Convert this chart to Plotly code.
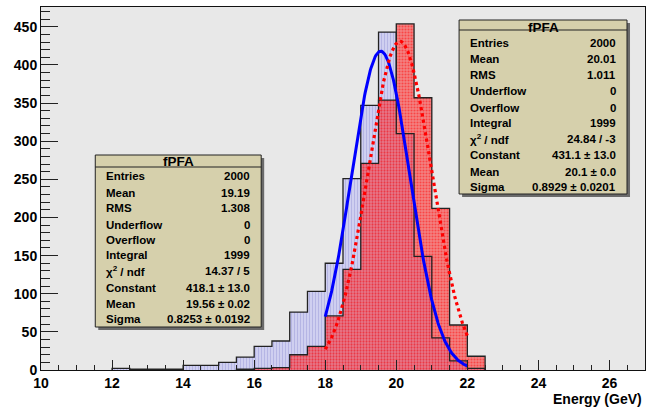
import numpy as np
import plotly.graph_objects as go

# ---------------- data ----------------
bin_width = 0.5
blue_low_edges = [12.0, 12.5, 13.0, 13.5, 14.0, 14.5, 15.0, 15.5, 16.0, 16.5, 17.0,
                  17.5, 18.0, 18.5, 19.0, 19.5, 20.0, 20.5, 21.0, 21.5, 22.0]
blue_counts = [2, 1, 1, 1, 6, 6, 10, 17, 31, 38, 76,
               103, 140, 251, 347, 443, 310, 149, 42, 12, 2]

red_low_edges = [15.5, 16.0, 16.5, 17.0, 17.5, 18.0, 18.5, 19.0, 19.5, 20.0, 20.5,
                 21.0, 21.5, 22.0]
red_counts = [1, 2, 3, 20, 31, 71, 132, 271, 354, 454, 357, 212, 59, 18]

# fit parameters (Constant, Mean, Sigma) and fit range
blue_fit = [418.1, 19.56, 0.8253]
red_fit = [431.1, 20.1, 0.8929]
fit_range = [18.0, 22.0]

stat_labels = ["Entries", "Mean", "RMS", "Underflow", "Overflow", "Integral",
               "χ<sup>2</sup> / ndf", "Constant", "Mean", "Sigma"]
blue_stats = ["2000", "19.19", "1.308", "0", "0", "1999", "14.37 / 5",
              "418.1 ± 13.0", "19.56 ± 0.02", "0.8253 ± 0.0192"]
red_stats = ["2000", "20.01", "1.011", "0", "0", "1999", "24.84 / -3",
             "431.1 ± 13.0", "20.1 ± 0.0", "0.8929 ± 0.0201"]
hist_title = "fPFA"

x_range = [10, 27]
y_range = [0, 476]

# ---------------- helpers ----------------
W, H = 646, 410
L, R, T, B = 40.7, 645.0, 7.0, 370.0
FONT = "Liberation Sans, Arial, Helvetica, sans-serif"


def px(x):
    return (x - L) / (R - L)


def py(y):
    return (B - y) / (B - T)


def step_xy(lows, counts):
    xs = [lows[0]] + list(lows) + [lows[-1] + bin_width] * 2
    ys = [0] + list(counts) + [counts[-1], 0]
    return xs, ys


fig = go.Figure()

# blue histogram fill (vertical hatch)
fig.add_trace(go.Bar(
    x=[e + bin_width / 2 for e in blue_low_edges], y=blue_counts, width=bin_width,
    marker=dict(color="#cfcff0", line=dict(width=0),
                pattern=dict(shape="|", fgcolor="#9c9cd8", size=3, solidity=0.35,
                             fillmode="overlay")),
    showlegend=False, hoverinfo="skip"))

# red histogram fill (stippled, see-through)
fig.add_trace(go.Bar(
    x=[e + bin_width / 2 for e in red_low_edges], y=red_counts, width=bin_width,
    marker=dict(color="rgba(255,15,15,0.47)", line=dict(width=0),
                pattern=dict(shape=".", fgcolor="#ff0a0a", size=3,
                             solidity=0.38, fillmode="overlay")),
    showlegend=False, hoverinfo="skip"))

# outlines
bx, by = step_xy(blue_low_edges, blue_counts)
fig.add_trace(go.Scatter(x=bx, y=by, mode="lines", line=dict(color="#222222", width=1.3, shape="hv"),
                         showlegend=False, hoverinfo="skip"))
rx, ry = step_xy(red_low_edges, red_counts)
fig.add_trace(go.Scatter(x=rx, y=ry, mode="lines", line=dict(color="#222222", width=1.3, shape="hv"),
                         showlegend=False, hoverinfo="skip"))

# fitted gaussians (from the stated fit parameters)
xf = np.linspace(fit_range[0], fit_range[1], 200)


def gaus(p, x):
    return p[0] * np.exp(-0.5 * ((x - p[1]) / p[2]) ** 2)


fig.add_trace(go.Scatter(x=xf, y=gaus(blue_fit, xf), mode="lines",
                         line=dict(color="#0000ff", width=3), showlegend=False, hoverinfo="skip"))
fig.add_trace(go.Scatter(x=xf, y=gaus(red_fit, xf), mode="lines",
                         line=dict(color="#ff0000", width=3.2, dash="dot"),
                         showlegend=False, hoverinfo="skip"))

# ---------------- stat boxes ----------------
shapes = []
annotations = []


def stat_box(left, right, top, bottom, sep, title_y, row_ys, values, txt_left, val_right):
    # shadow
    shapes.append(dict(type="rect", xref="paper", yref="paper",
                       x0=px(left + 3), x1=px(right + 3), y0=py(bottom + 3), y1=py(top + 3),
                       fillcolor="#6a6a6a", line=dict(width=0), layer="above"))
    shapes.append(dict(type="rect", xref="paper", yref="paper",
                       x0=px(left), x1=px(right), y0=py(bottom), y1=py(top),
                       fillcolor="#d6d0ac", line=dict(color="#222222", width=1), layer="above"))
    shapes.append(dict(type="line", xref="paper", yref="paper",
                       x0=px(left), x1=px(right), y0=py(sep), y1=py(sep),
                       line=dict(color="#222222", width=1), layer="above"))
    annotations.append(dict(xref="paper", yref="paper", x=px((left + right) / 2), y=py(title_y),
                            text=hist_title, showarrow=False, xanchor="center", yanchor="middle",
                            font=dict(family=FONT, size=13.5, color="black", weight="bold")))
    for lab, val, yy in zip(stat_labels, values, row_ys):
        annotations.append(dict(xref="paper", yref="paper", x=px(txt_left), y=py(yy), text=lab,
                                showarrow=False, xanchor="left", yanchor="middle",
                                font=dict(family=FONT, size=11.5, color="black", weight="bold")))
        annotations.append(dict(xref="paper", yref="paper", x=px(val_right), y=py(yy), text=val,
                                showarrow=False, xanchor="right", yanchor="middle",
                                font=dict(family=FONT, size=11.5, color="black", weight="bold")))


stat_box(95, 261, 155, 327, 167, 161.5,
         [176, 192.7, 207.7, 225, 240, 255.3, 270.7, 287.7, 304, 319.3],
         blue_stats, 103.5, 252)
stat_box(459, 627, 20, 194, 30, 27.5,
         [42.7, 59.3, 75, 91, 107.7, 122.7, 139.3, 155, 171.7, 186.7],
         red_stats, 467.5, 617.5)

# x-axis title
annotations.append(dict(xref="paper", yref="paper", x=px(644), y=py(398.5), text="Energy (GeV)",
                        showarrow=False, xanchor="right", yanchor="middle",
                        font=dict(family=FONT, size=14, color="black", weight="bold")))

fig.update_layout(
    width=W, height=H,
    margin=dict(l=L, r=W - R, t=T, b=H - B),
    paper_bgcolor="white", plot_bgcolor="#e8e8e8",
    barmode="overlay", bargap=0,
    shapes=shapes, annotations=annotations,
    xaxis=dict(range=x_range, dtick=2, tick0=10, ticks="inside", ticklen=10, tickwidth=1,
               tickcolor="#222222", showgrid=False, zeroline=False,
               showline=True, linecolor="#111111", linewidth=1, mirror=True,
               minor=dict(dtick=0.5, ticks="inside", ticklen=5, tickcolor="#222222", showgrid=False),
               tickfont=dict(family=FONT, size=14, color="black", weight="bold")),
    yaxis=dict(range=y_range, dtick=50, tick0=0, ticks="inside", ticklen=17, tickwidth=1,
               tickcolor="#222222", showgrid=False, zeroline=False,
               showline=True, linecolor="#111111", linewidth=1, mirror=True,
               minor=dict(dtick=10, ticks="inside", ticklen=9, tickcolor="#222222", showgrid=False),
               tickfont=dict(family=FONT, size=14, color="black", weight="bold")),
)

fig.write_html("out.html")
